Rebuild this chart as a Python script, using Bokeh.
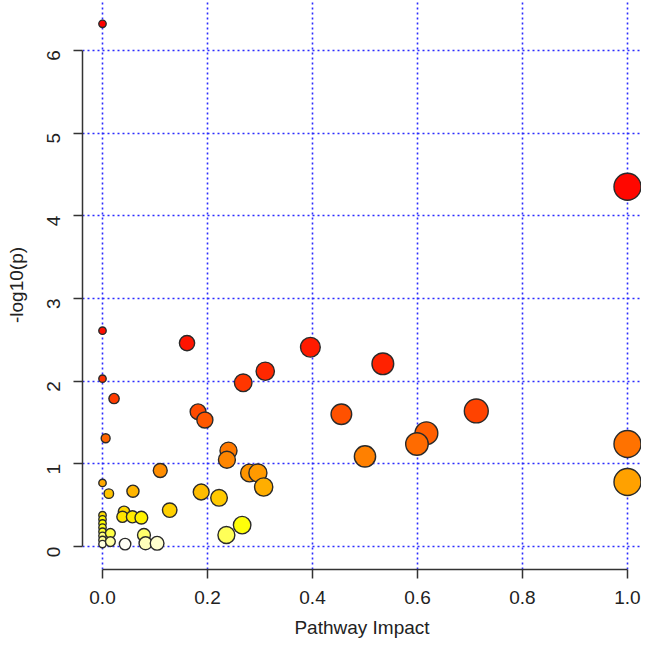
import colorsys
import numpy as np
from bokeh.plotting import figure
from bokeh.models import FixedTicker, ColumnDataSource
from bokeh.embed import file_html
from bokeh.resources import INLINE

# Pathway impact (x) and -log10(p) (y)
impact = [0.0, 1.0, 0.0, 0.161, 0.396, 0.534, 0.310, 0.268, 0.0, 0.022,
          0.182, 0.195, 0.455, 0.712, 0.617, 0.599, 1.0, 0.500, 1.0, 0.006,
          0.240, 0.237, 0.110, 0.280, 0.296, 0.307, 0.0, 0.012, 0.058, 0.188,
          0.222, 0.128, 0.266, 0.236, 0.041, 0.038, 0.057, 0.074,
          0.0, 0.0, 0.0, 0.0, 0.0, 0.0, 0.0, 0.0,
          0.015, 0.015, 0.043, 0.079, 0.082, 0.104]
neglogp = [6.32, 4.35, 2.61, 2.46, 2.41, 2.21, 2.12, 1.98, 2.03, 1.79,
           1.63, 1.53, 1.60, 1.64, 1.37, 1.24, 1.24, 1.09, 0.78, 1.31,
           1.16, 1.05, 0.92, 0.89, 0.89, 0.72, 0.77, 0.64, 0.67, 0.66,
           0.59, 0.44, 0.26, 0.14, 0.42, 0.36, 0.36, 0.35,
           0.38, 0.33, 0.28, 0.23, 0.18, 0.13, 0.08, 0.03,
           0.16, 0.06, 0.03, 0.14, 0.04, 0.04]

x_ticks = [0.0, 0.2, 0.4, 0.6, 0.8, 1.0]
y_ticks = [0, 1, 2, 3, 4, 5, 6]


def heat_colors(n):
    j = n // 4
    i = n - j
    cols = []
    for k in range(i):
        h = (k / (i - 1)) * (1 / 6) if i > 1 else 0.0
        cols.append(colorsys.hsv_to_rgb(h, 1.0, 1.0))
    if j > 0:
        s_from = 1 - 1 / (2 * j)
        s_to = 1 / (2 * j)
        for k in range(j):
            s = s_from + (s_to - s_from) * (k / (j - 1) if j > 1 else 0)
            cols.append(colorsys.hsv_to_rgb(1 / 6, s, 1.0))
    return ["#%02x%02x%02x" % tuple(int(round(c * 255)) for c in rgb) for rgb in cols]


n = len(impact)
pal = heat_colors(n)
order = np.argsort(-np.array(neglogp), kind="stable")
colors = [None] * n
for r, idx in enumerate(order):
    colors[idx] = pal[r]
sizes = [2 * (3.7 + 9.8 * np.sqrt(v)) for v in impact]

src = ColumnDataSource(dict(x=impact, y=neglogp, c=colors, s=sizes))

FONT = "Liberation Sans"
TXT = "#222222"

p = figure(width=641, height=640, output_backend="svg", toolbar_location=None,
           x_range=(-0.0381, 1.0267), y_range=(-0.277, 6.602),
           min_border_left=82, min_border_right=0, min_border_top=0, min_border_bottom=0)
p.title.visible = False
p.outline_line_color = None
p.background_fill_color = "white"

for g, ticks in ((p.xgrid, x_ticks), (p.ygrid, y_ticks)):
    g.ticker = FixedTicker(ticks=ticks)
    g.grid_line_color = "#2b2bff"
    g.grid_line_dash = "2 3"
    g.grid_line_width = 1.6

p.scatter("x", "y", source=src, size="s", fill_color="c", line_color="#2a2a2a",
          line_width=1.4)

p.xaxis.ticker = FixedTicker(ticks=x_ticks)
p.yaxis.ticker = FixedTicker(ticks=y_ticks)
p.xaxis.bounds = (0, 1)
p.yaxis.bounds = (0, 6)
p.xaxis.major_label_overrides = {v: "%.1f" % v for v in x_ticks}
p.yaxis.major_label_orientation = np.pi / 2
p.xaxis.axis_label = "Pathway Impact"
p.yaxis.axis_label = "-log10(p)"
for ax in (p.xaxis, p.yaxis):
    ax.axis_line_color = "#333333"
    ax.axis_line_width = 1.5
    ax.major_tick_line_color = "#333333"
    ax.major_tick_line_width = 1.5
    ax.major_tick_out = 9
    ax.major_tick_in = 0
    ax.minor_tick_line_color = None
    ax.major_label_text_font = FONT
    ax.major_label_text_font_size = "19px"
    ax.major_label_text_color = TXT
    ax.axis_label_text_font = FONT
    ax.axis_label_text_font_size = "19px"
    ax.axis_label_text_font_style = "normal"
    ax.axis_label_text_color = TXT
p.xaxis.major_label_standoff = 12
p.xaxis.axis_label_standoff = 10
p.yaxis.major_label_standoff = 20
p.yaxis.axis_label_standoff = 11

open("out.html", "w").write(file_html(p, INLINE))
